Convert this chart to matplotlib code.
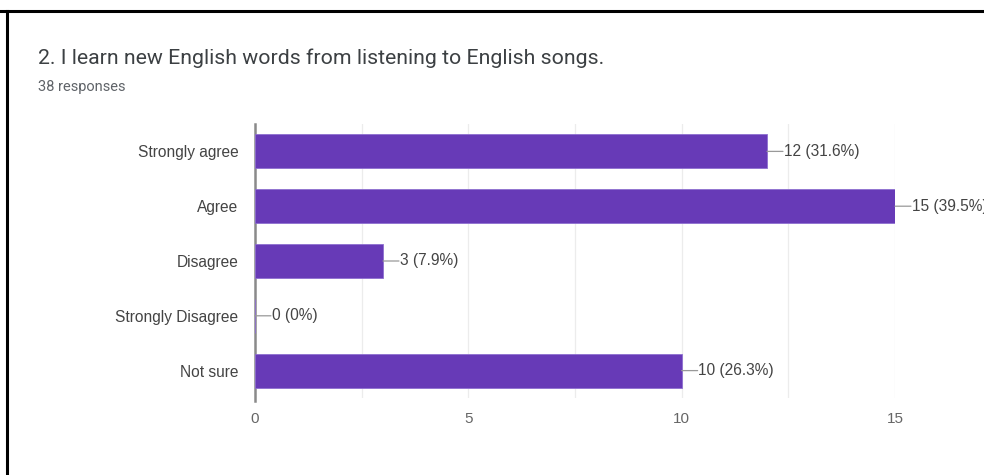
import numpy as np
import matplotlib.pyplot as plt
from matplotlib.lines import Line2D

# survey answers, top to bottom
categories = ["Strongly agree", "Agree", "Disagree", "Strongly Disagree", "Not sure"]
counts     = [12, 15, 3, 0, 10]
percents   = ["31.6%", "39.5%", "7.9%", "0%", "26.3%"]
x_ticks    = [0, 5, 10, 15]

TITLE    = "2. I learn new English words from listening to English songs."
SUBTITLE = "38 responses"
PURPLE   = "#673AB7"

fig = plt.figure(figsize=(9.84, 4.75), dpi=100)
fig.patch.set_facecolor("white")

# black frame (top and left edge of the screenshot)
fig.add_artist(Line2D([0, 1], [1 - 11 / 475] * 2, color="black", lw=2.2,
                      transform=fig.transFigure))
fig.add_artist(Line2D([7 / 984] * 2, [0, 1 - 11 / 475], color="black", lw=2.2,
                      transform=fig.transFigure))

fig.text(38 / 984, 1 - 58 / 475, TITLE, fontsize=15.3, color="#3c4043",
         family="Roboto", va="center", ha="left")
fig.text(38 / 984, 1 - 87 / 475, SUBTITLE, fontsize=10.5, color="#5f6368",
         family="Roboto", va="center", ha="left")

ax = fig.add_axes([255 / 984, 1 - 398 / 475, 640 / 984, 274 / 475])
y = np.arange(len(categories))
ax.barh(y, counts, height=0.62, color=PURPLE, edgecolor="#8e6fd0",
        linewidth=0.6, zorder=3)

ax.set_xlim(0, 15)
ax.set_ylim(len(categories) - 0.5, -0.5)
ax.set_xticks(x_ticks)
ax.set_xticks(np.arange(0, 15.1, 2.5), minor=True)
ax.set_yticks(y)
ax.set_yticklabels(categories, family="Liberation Sans", fontsize=11.2,
                   color="#444444")
ax.set_xticklabels([str(t) for t in x_ticks], family="Liberation Sans",
                   fontsize=11, color="#666666")
ax.tick_params(axis="both", which="both", length=0)
ax.tick_params(axis="y", pad=12)
ax.tick_params(axis="x", pad=10)
ax.grid(axis="x", which="both", color="#ececec", lw=0.9, zorder=0)

for s in ["top", "right", "bottom"]:
    ax.spines[s].set_visible(False)
ax.spines["left"].set_color("#8a8a8a")
ax.spines["left"].set_linewidth(1.8)
ax.spines["left"].set_bounds(len(categories) - 0.45, -0.5)

# value labels with short leader lines
for yi, c, p in zip(y, counts, percents):
    ax.annotate("", xy=(c, yi), xytext=(11.5, 0), textcoords="offset points",
                arrowprops=dict(arrowstyle="-", color="#999999", lw=0.9,
                                shrinkA=0, shrinkB=0), annotation_clip=False)
    ax.annotate(f"{c} ({p})", xy=(c, yi), xytext=(12, 0),
                textcoords="offset points", va="center", ha="left",
                family="Liberation Sans", fontsize=11.2, color="#444444",
                annotation_clip=False)

fig.savefig("out.png", dpi=100, facecolor="white")
